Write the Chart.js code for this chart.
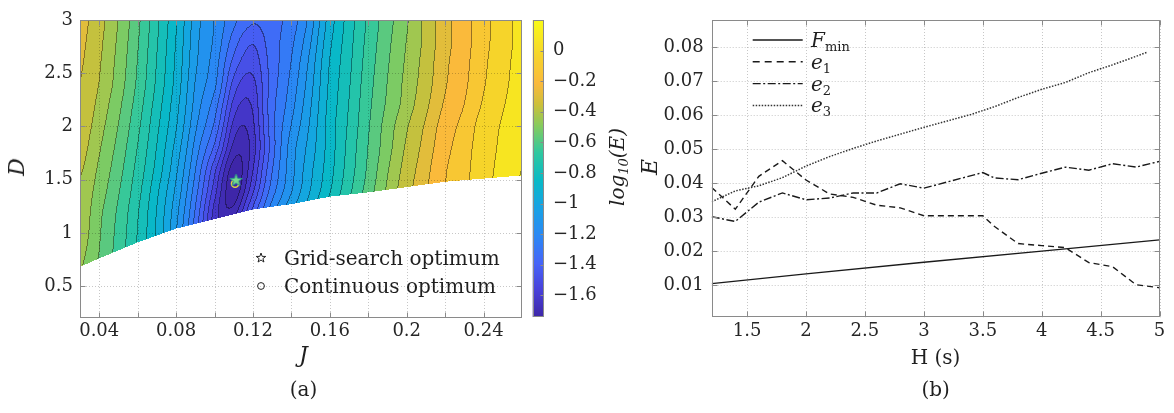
<!DOCTYPE html>
<html><head><meta charset="utf-8"><title>Contour and error curves</title>
<script src="https://cdn.jsdelivr.net/npm/chart.js@4.4.1/dist/chart.umd.min.js"></script>
<style>
html,body{margin:0;padding:0;background:#fff}
#wrap{position:relative;width:1174px;height:413px;overflow:hidden;font-family:"DejaVu Serif",serif;color:#1f1f1f;background:#fff}
canvas{position:absolute;top:0}
.t{position:absolute;white-space:nowrap;line-height:1}
.c{transform:translate(-50%,-50%)}
.r{transform:translate(-50%,-50%) rotate(-90deg)}
.v{transform:translateY(-50%)}
.it{font-style:italic}
.sb{font-size:13px;font-style:normal;position:relative;top:4px}
</style></head><body><div id="wrap">
<canvas id="left" width="530" height="413" style="left:0px;width:530px;height:413px"></canvas>
<canvas id="cbar" width="112" height="413" style="left:528px;width:112px;height:413px"></canvas>
<canvas id="right" width="534" height="413" style="left:640px;width:534px;height:413px"></canvas>

<div class="t r it" style="left:17px;top:167px;font-size:22px">D</div>
<div class="t c it" style="left:303.5px;top:355px;font-size:22px">J</div>
<div class="t c" style="left:303.5px;top:389px;font-size:20px">(a)</div>
<div class="t r it" style="left:617px;top:167px;font-size:20px">log<span style="font-size:13px;position:relative;top:4px">10</span>(E)</div>

<svg style="position:absolute;left:0;top:0" width="530" height="413">
  <polygon transform="translate(261,258)" points="0,-5 1.18,-1.62 4.76,-1.55 1.9,0.62 2.94,4.05 0,2 -2.94,4.05 -1.9,0.62 -4.76,-1.55 -1.18,-1.62" fill="none" stroke="#222" stroke-width="1"/>
  <circle cx="261" cy="286" r="3.4" fill="none" stroke="#222" stroke-width="1"/>
</svg>
<div class="t v" style="left:284px;top:258px;font-size:20px">Grid-search optimum</div>
<div class="t v" style="left:284px;top:286px;font-size:20px">Continuous optimum</div>

<div class="t r it" style="left:650px;top:167px;font-size:22px">E</div>
<div class="t c" style="left:935.6px;top:357px;font-size:20px">H (s)</div>
<div class="t c" style="left:935.6px;top:389px;font-size:20px">(b)</div>

<svg style="position:absolute;left:740px;top:20px" width="70" height="100">
  <line x1="12.7" y1="20" x2="62.7" y2="20" stroke="#1a1a1a" stroke-width="1.3"/>
  <line x1="12.7" y1="41.8" x2="62.7" y2="41.8" stroke="#1a1a1a" stroke-width="1.4" stroke-dasharray="7,5"/>
  <line x1="12.7" y1="63.6" x2="62.7" y2="63.6" stroke="#1a1a1a" stroke-width="1.4" stroke-dasharray="8,2.5,2,2.5"/>
  <line x1="12.7" y1="85.4" x2="62.7" y2="85.4" stroke="#333" stroke-width="1.5" stroke-dasharray="1.5,1.5"/>
</svg>
<div class="t v it" style="left:811px;top:40px;font-size:20px">F<span class="sb">min</span></div>
<div class="t v it" style="left:811px;top:61.8px;font-size:20px">e<span class="sb">1</span></div>
<div class="t v it" style="left:811px;top:83.6px;font-size:20px">e<span class="sb">2</span></div>
<div class="t v it" style="left:811px;top:105.4px;font-size:20px">e<span class="sb">3</span></div>
</div>
<script>
// ================= DATA =================
// Panel (a): log10(E) over J (columns) and D (rows)
const J_GRID = [0.03,0.04,0.05,0.06,0.07,0.08,0.09,0.10,0.11,0.12,0.13,0.14,0.15,0.16,0.17,0.18,0.19,0.20,0.21,0.22,0.23,0.24,0.25,0.26];
const D_GRID = [0.6,0.8,1.0,1.2,1.4,1.6,1.8,2.0,2.2,2.4,2.6,2.8,3.0];
const LOG10E = [
 [-0.44,-0.53,-0.63,-0.75,-0.89,-1.07,-1.25,-1.40,-1.26,-1.05,-0.89,-0.76,-0.65,-0.55,-0.46,-0.37,-0.28,-0.20,-0.12,-0.02,0.05,0.13,0.19,0.25],
 [-0.42,-0.51,-0.61,-0.73,-0.88,-1.07,-1.30,-1.51,-1.40,-1.18,-1.00,-0.87,-0.75,-0.64,-0.54,-0.44,-0.34,-0.25,-0.16,-0.06,0.01,0.10,0.16,0.22],
 [-0.40,-0.50,-0.60,-0.72,-0.87,-1.06,-1.31,-1.58,-1.53,-1.28,-1.08,-0.94,-0.81,-0.70,-0.59,-0.48,-0.37,-0.27,-0.18,-0.08,-0.01,0.08,0.14,0.20],
 [-0.39,-0.49,-0.59,-0.71,-0.86,-1.04,-1.28,-1.58,-1.67,-1.40,-1.17,-1.01,-0.88,-0.75,-0.63,-0.51,-0.40,-0.29,-0.20,-0.10,-0.03,0.06,0.13,0.19],
 [-0.38,-0.47,-0.57,-0.69,-0.84,-1.01,-1.24,-1.52,-1.75,-1.51,-1.25,-1.08,-0.93,-0.80,-0.67,-0.55,-0.43,-0.32,-0.22,-0.12,-0.05,0.04,0.11,0.18],
 [-0.36,-0.45,-0.55,-0.67,-0.81,-0.98,-1.20,-1.46,-1.73,-1.57,-1.29,-1.10,-0.95,-0.82,-0.69,-0.57,-0.45,-0.34,-0.24,-0.13,-0.06,0.03,0.10,0.17],
 [-0.34,-0.43,-0.53,-0.65,-0.79,-0.95,-1.16,-1.36,-1.65,-1.60,-1.32,-1.11,-0.97,-0.83,-0.70,-0.58,-0.47,-0.36,-0.26,-0.15,-0.07,0.02,0.09,0.16],
 [-0.32,-0.41,-0.51,-0.63,-0.77,-0.92,-1.12,-1.29,-1.58,-1.58,-1.31,-1.14,-0.99,-0.83,-0.71,-0.59,-0.48,-0.38,-0.28,-0.17,-0.09,0.01,0.08,0.15],
 [-0.30,-0.39,-0.49,-0.61,-0.75,-0.90,-1.09,-1.24,-1.51,-1.55,-1.31,-1.17,-1.01,-0.84,-0.72,-0.60,-0.50,-0.41,-0.31,-0.20,-0.12,-0.02,0.06,0.13],
 [-0.29,-0.37,-0.47,-0.59,-0.73,-0.88,-1.07,-1.19,-1.44,-1.51,-1.32,-1.19,-1.03,-0.85,-0.73,-0.61,-0.51,-0.42,-0.33,-0.22,-0.14,-0.04,0.04,0.12],
 [-0.28,-0.36,-0.46,-0.58,-0.72,-0.87,-1.05,-1.17,-1.37,-1.46,-1.32,-1.21,-1.05,-0.86,-0.74,-0.62,-0.52,-0.43,-0.34,-0.23,-0.15,-0.05,0.03,0.11],
 [-0.27,-0.35,-0.45,-0.57,-0.71,-0.86,-1.04,-1.15,-1.31,-1.41,-1.31,-1.23,-1.08,-0.88,-0.75,-0.63,-0.53,-0.44,-0.35,-0.24,-0.16,-0.06,0.02,0.10],
 [-0.26,-0.34,-0.44,-0.56,-0.70,-0.85,-1.03,-1.14,-1.26,-1.34,-1.30,-1.25,-1.11,-0.90,-0.76,-0.64,-0.54,-0.45,-0.35,-0.24,-0.16,-0.06,0.02,0.10]
];
const BOUND_J = [0.03,0.04,0.06,0.08,0.10,0.12,0.14,0.16,0.18,0.20,0.22,0.24,0.26];
const BOUND_D = [0.68,0.76,0.91,1.04,1.13,1.22,1.27,1.34,1.38,1.43,1.48,1.51,1.54];
const CONTOUR_LEVELS = [-1.70,-1.63,-1.56,-1.49,-1.42,-1.35,-1.28,-1.21,-1.14,-1.07,-1.00,-0.93,-0.86,-0.79,-0.72,-0.65,-0.58,-0.51,-0.44,-0.37,-0.29,-0.21,-0.12,-0.03,0.07,0.17];
const GRID_OPT = [0.1112, 1.493];
const CONT_OPT = [0.1107, 1.462];
const J_TICKS = [0.04,0.06,0.08,0.10,0.12,0.14,0.16,0.18,0.20,0.22,0.24];
const J_LABELED = [0.04,0.08,0.12,0.16,0.2,0.24];
const D_TICKS = [0.5,1,1.5,2,2.5,3];
const CB_TICKS = [-1.6,-1.4,-1.2,-1,-0.8,-0.6,-0.4,-0.2,0];
const CB_MIN = -1.74, CB_MAX = 0.2;

// Panel (b)
const H_F = [1.2,2.0,3.0,4.0,5.0];
const F_MIN = [0.0104,0.0133,0.0167,0.0200,0.0233];
const H_E = [1.2,1.4,1.6,1.8,2.0,2.2,2.4,2.6,2.8,3.0,3.5,3.6,3.8,4.0,4.2,4.4,4.6,4.8,5.0];
const E1 = [0.0387,0.0323,0.0420,0.0466,0.0409,0.0368,0.0358,0.0335,0.0327,0.0304,0.0304,0.0272,0.0222,0.0216,0.0210,0.0166,0.0154,0.0101,0.0092];
const E2 = [0.0301,0.0287,0.0344,0.0371,0.0351,0.0356,0.0371,0.0371,0.0398,0.0385,0.0431,0.0415,0.0410,0.0429,0.0447,0.0438,0.0457,0.0447,0.0464];
const H_E3 = [1.2,1.4,1.6,1.8,2.0,2.2,2.4,2.6,2.8,3.0,3.2,3.4,3.6,3.8,4.0,4.2,4.4,4.6,4.8,4.9];
const E3 = [0.0345,0.0377,0.0392,0.0416,0.0450,0.0478,0.0502,0.0524,0.0544,0.0564,0.0583,0.0602,0.0625,0.0652,0.0676,0.0696,0.0725,0.0748,0.0773,0.0786];
const H_TICKS = [1.5,2,2.5,3,3.5,4,4.5,5];
const E_TICKS = [0.01,0.02,0.03,0.04,0.05,0.06,0.07,0.08];

// ================= STYLE =================
Chart.defaults.font.family = '"DejaVu Serif", serif';
Chart.defaults.font.size = 18;
Chart.defaults.color = '#262626';
Chart.defaults.animation = false;

const PARULA_T = [0.000,0.090,0.180,0.270,0.370,0.460,0.555,0.645,0.715,0.785,0.880,1.000];
const PARULA_C = [[62,38,168],[72,64,218],[70,100,248],[42,135,245],[22,163,228],[8,186,198],[48,200,158],[135,203,92],[205,192,58],[250,185,60],[246,212,42],[249,251,21]];
function parula(t){
  t = Math.max(0, Math.min(1, t));
  let i = 0; while (i < PARULA_T.length-2 && t > PARULA_T[i+1]) i++;
  const f = (t-PARULA_T[i])/(PARULA_T[i+1]-PARULA_T[i]), a = PARULA_C[i], b = PARULA_C[i+1];
  return [a[0]+(b[0]-a[0])*f, a[1]+(b[1]-a[1])*f, a[2]+(b[2]-a[2])*f];
}
const FRAME = '#8a8a8a';
const GRIDC = 'rgba(0,0,0,0.22)';

function boundaryAt(J){
  if (J <= BOUND_J[0]) return BOUND_D[0];
  for (let i=1;i<BOUND_J.length;i++){
    if (J <= BOUND_J[i]){ const f=(J-BOUND_J[i-1])/(BOUND_J[i]-BOUND_J[i-1]); return BOUND_D[i-1]+(BOUND_D[i]-BOUND_D[i-1])*f; }
  }
  return BOUND_D[BOUND_D.length-1];
}
function crw(t){ const t2=t*t, t3=t2*t; return [(-t3+2*t2-t)/2,(3*t3-5*t2+2)/2,(-3*t3+4*t2+t)/2,(t3-t2)/2]; }
function seg(arr, v){
  const step = arr[1]-arr[0]; let u=(v-arr[0])/step;
  if (u<0) u=0; if (u>arr.length-1) u=arr.length-1;
  let i=Math.floor(u); if (i>arr.length-2) i=arr.length-2;
  return [i, u-i];
}
function renderField(chart){
  const a=chart.chartArea, xs=chart.scales.x, ys=chart.scales.y;
  const AW=a.right-a.left, AH=a.bottom-a.top;
  const W=Math.round(AW), H=Math.round(AH);
  const off=document.createElement('canvas'); off.width=W; off.height=H;
  const g=off.getContext('2d'); const img=g.createImageData(W,H); const px=img.data;
  const nJ=J_GRID.length, nD=D_GRID.length;
  const EG=LOG10E.map(r=>r.map(v=>Math.pow(10,v)));
  const band=new Int16Array(W*H);
  const colJ=[], colI=[], colW=[];
  for(let x=0;x<W;x++){ const J=xs.getValueForPixel(a.left+(x+0.5)*AW/W); colJ.push(J); const s=seg(J_GRID,J); colI.push(s[0]); colW.push(crw(s[1])); }
  const rowE=new Float64Array(nJ);
  for(let y=0;y<H;y++){
    const D=ys.getValueForPixel(a.top+(y+0.5)*AH/H);
    const s=seg(D_GRID,D), rw=crw(s[1]);
    for(let c=0;c<nJ;c++){ let v=0; for(let k=0;k<4;k++){ const r=Math.min(nD-1,Math.max(0,s[0]-1+k)); v+=rw[k]*EG[r][c]; } rowE[c]=v; }
    for(let x=0;x<W;x++){
      const p=y*W+x;
      if (D < boundaryAt(colJ[x])) { band[p]=-1; continue; }
      const i=colI[x], w=colW[x]; let e=0;
      for(let k=0;k<4;k++){ const c=Math.min(nJ-1,Math.max(0,i-1+k)); e+=w[k]*rowE[c]; }
      if (e<1e-4) e=1e-4;
      const f=Math.log10(e);
      let b=0; while(b<CONTOUR_LEVELS.length && f>=CONTOUR_LEVELS[b]) b++;
      band[p]=b;
    }
  }
  const bandCol=[];
  for(let b=0;b<=CONTOUR_LEVELS.length;b++){ const v=b===0?CB_MIN:CONTOUR_LEVELS[b-1]; bandCol.push(parula((v-CB_MIN)/(CB_MAX-CB_MIN))); }
  for(let y=0;y<H;y++) for(let x=0;x<W;x++){
    const p=y*W+x, b=band[p];
    if (b<0){ px[p*4+3]=0; continue; }
    let line=false;
    if (x+1<W && band[p+1]>=0 && band[p+1]!==b) line=true;
    if (y+1<H && band[p+W]>=0 && band[p+W]!==b) line=true;
    const c=bandCol[b], k=line?0.6:1;
    px[p*4]=c[0]*k; px[p*4+1]=c[1]*k; px[p*4+2]=c[2]*k; px[p*4+3]=255;
  }
  g.putImageData(img,0,0);
  return off;
}
function drawGrid(ctx,a,xs,ys,xt,yt){
  ctx.save(); ctx.strokeStyle=GRIDC; ctx.lineWidth=1; ctx.setLineDash([1,2]);
  ctx.beginPath();
  xt.forEach(v=>{ const x=Math.round(xs.getPixelForValue(v))+0.5; ctx.moveTo(x,a.top); ctx.lineTo(x,a.bottom); });
  yt.forEach(v=>{ const y=Math.round(ys.getPixelForValue(v))+0.5; ctx.moveTo(a.left,y); ctx.lineTo(a.right,y); });
  ctx.stroke(); ctx.restore();
}
function drawFrame(ctx,a,xs,ys,xt,yt){
  ctx.save(); ctx.strokeStyle=FRAME; ctx.lineWidth=1; ctx.setLineDash([]);
  const L=Math.round(a.left)+0.5, R=Math.round(a.right)-0.5, T=Math.round(a.top)+0.5, B=Math.round(a.bottom)-0.5;
  ctx.strokeRect(L,T,R-L,B-T);
  ctx.beginPath();
  const tl=5;
  xt.forEach(v=>{ const x=Math.round(xs.getPixelForValue(v))+0.5; ctx.moveTo(x,B); ctx.lineTo(x,B-tl); ctx.moveTo(x,T); ctx.lineTo(x,T+tl); });
  yt.forEach(v=>{ const y=Math.round(ys.getPixelForValue(v))+0.5; ctx.moveTo(L,y); ctx.lineTo(L+tl,y); ctx.moveTo(R,y); ctx.lineTo(R-tl,y); });
  ctx.stroke(); ctx.restore();
}
function makeStar(R, fill, stroke){
  const s=Math.ceil(2*R+4), c=document.createElement('canvas'); c.width=s; c.height=s;
  const g=c.getContext('2d'), cx=s/2, cy=s/2, r=R*0.4;
  g.beginPath();
  for(let k=0;k<10;k++){ const ang=-Math.PI/2+k*Math.PI/5, rr=(k%2===0)?R:r; g.lineTo(cx+rr*Math.cos(ang), cy+rr*Math.sin(ang)); }
  g.closePath(); g.fillStyle=fill; g.fill(); g.lineWidth=1; g.strokeStyle=stroke; g.stroke();
  return c;
}

// ================= PANEL (a) =================
const fieldPlugin = {
  id:'field',
  beforeDatasetsDraw(chart){
    const ctx=chart.ctx, a=chart.chartArea, xs=chart.scales.x, ys=chart.scales.y;
    if (!chart.$field) chart.$field=renderField(chart);
    ctx.drawImage(chart.$field, a.left, a.top, a.right-a.left, a.bottom-a.top);
    drawGrid(ctx,a,xs,ys,J_TICKS,D_TICKS);
    drawFrame(ctx,a,xs,ys,J_TICKS,D_TICKS);
  }
};
new Chart(document.getElementById('left'), {
  type:'scatter',
  data:{datasets:[
    {label:'Grid-search optimum', data:[{x:GRID_OPT[0], y:GRID_OPT[1]}], pointStyle:makeStar(6.5,'#78d890','#2f9c88'), pointRadius:7},
    {label:'Continuous optimum', data:[{x:CONT_OPT[0], y:CONT_OPT[1]}], pointStyle:'circle', pointRadius:3.6, borderColor:'#e3d43c', borderWidth:1.6, backgroundColor:'rgba(0,0,0,0)'}
  ]},
  options:{
    responsive:false, animation:false,
    layout:{padding:{top:20,right:3,left:0,bottom:0}},
    plugins:{legend:{display:false}, tooltip:{enabled:false}},
    scales:{
      x:{type:'linear', min:0.03, max:0.26,
         afterBuildTicks:s=>{ s.ticks=J_TICKS.map(v=>({value:v})); },
         afterFit:s=>{ s.height=95; },
         grid:{display:false, drawTicks:false}, border:{display:false},
         ticks:{autoSkip:false, maxRotation:0, minRotation:0, padding:3,
                callback:v=>{ const l=J_LABELED.find(q=>Math.abs(q-v)<1e-9); return l===undefined?'':String(l); }}},
      y:{type:'linear', min:0.2, max:3,
         afterBuildTicks:s=>{ s.ticks=D_TICKS.map(v=>({value:v})); },
         afterFit:s=>{ s.width=80; },
         grid:{display:false, drawTicks:false}, border:{display:false},
         ticks:{autoSkip:false, padding:7, callback:v=>String(v)}}
    }
  },
  plugins:[fieldPlugin]
});

// ================= COLORBAR =================
const cbarPlugin = {
  id:'cbar',
  beforeDatasetsDraw(chart){
    const ctx=chart.ctx, a=chart.chartArea, ys=chart.scales.y;
    const top=Math.round(a.top), bot=Math.round(a.bottom);
    for(let y=top;y<bot;y++){
      const v=ys.getValueForPixel(y+0.5), c=parula((v-CB_MIN)/(CB_MAX-CB_MIN));
      ctx.fillStyle='rgb('+Math.round(c[0])+','+Math.round(c[1])+','+Math.round(c[2])+')';
      ctx.fillRect(a.left, y, a.right-a.left, 1);
    }
    ctx.save(); ctx.strokeStyle=FRAME; ctx.lineWidth=1;
    ctx.strokeRect(Math.round(a.left)+0.5, top+0.5, Math.round(a.right-a.left)-1, bot-top-1);
    ctx.beginPath();
    CB_TICKS.forEach(v=>{ const y=Math.round(ys.getPixelForValue(v))+0.5; ctx.moveTo(a.right-0.5,y); ctx.lineTo(a.right-3.5,y); });
    ctx.stroke(); ctx.restore();
  }
};
new Chart(document.getElementById('cbar'), {
  type:'scatter',
  data:{datasets:[]},
  options:{
    responsive:false, animation:false,
    layout:{padding:{top:20,left:4.7,right:0,bottom:96.3}},
    plugins:{legend:{display:false}, tooltip:{enabled:false}},
    scales:{
      x:{display:false, min:0, max:1},
      y:{type:'linear', position:'right', min:CB_MIN, max:CB_MAX,
         afterBuildTicks:s=>{ s.ticks=CB_TICKS.map(v=>({value:v})); },
         afterFit:s=>{ s.width=96; },
         grid:{display:false, drawTicks:false}, border:{display:false},
         ticks:{autoSkip:false, padding:9, callback:v=> v===0 ? '0' : '\u2212'+String(Math.abs(v))}}
    }
  },
  plugins:[cbarPlugin]
});

// ================= PANEL (b) =================
const rightPlugin = {
  id:'rightDeco',
  beforeDatasetsDraw(chart){ drawGrid(chart.ctx, chart.chartArea, chart.scales.x, chart.scales.y, H_TICKS, E_TICKS); },
  afterDatasetsDraw(chart){ drawFrame(chart.ctx, chart.chartArea, chart.scales.x, chart.scales.y, H_TICKS, E_TICKS); }
};
const pts=(xs,ys)=>xs.map((x,i)=>({x:x,y:ys[i]}));
const lineDs=(label,data,color,width,dash)=>({label, data, showLine:true, borderColor:color, backgroundColor:color, borderWidth:width, borderDash:dash, pointRadius:0, fill:false, tension:0});
new Chart(document.getElementById('right'), {
  type:'scatter',
  data:{datasets:[
    lineDs('Fmin', pts(H_F,F_MIN), '#1a1a1a', 1.3, []),
    lineDs('e1', pts(H_E,E1), '#1a1a1a', 1.4, [6,4]),
    lineDs('e2', pts(H_E,E2), '#1a1a1a', 1.4, [8,2.5,2,2.5]),
    lineDs('e3', pts(H_E3,E3), '#333333', 1.5, [1.5,1.5])
  ]},
  options:{
    responsive:false, animation:false,
    layout:{padding:{top:20,right:14.4,left:0,bottom:0}},
    plugins:{legend:{display:false}, tooltip:{enabled:false}},
    scales:{
      x:{type:'linear', min:1.2, max:5,
         afterBuildTicks:s=>{ s.ticks=H_TICKS.map(v=>({value:v})); },
         afterFit:s=>{ s.height=95.7; },
         grid:{display:false, drawTicks:false}, border:{display:false},
         ticks:{autoSkip:false, maxRotation:0, minRotation:0, padding:3, callback:v=>String(v)}},
      y:{type:'linear', min:0.0005, max:0.088,
         afterBuildTicks:s=>{ s.ticks=E_TICKS.map(v=>({value:v})); },
         afterFit:s=>{ s.width=71.7; },
         grid:{display:false, drawTicks:false}, border:{display:false},
         ticks:{autoSkip:false, padding:8, callback:v=>String(v)}}
    }
  },
  plugins:[rightPlugin]
});
</script></body></html>
